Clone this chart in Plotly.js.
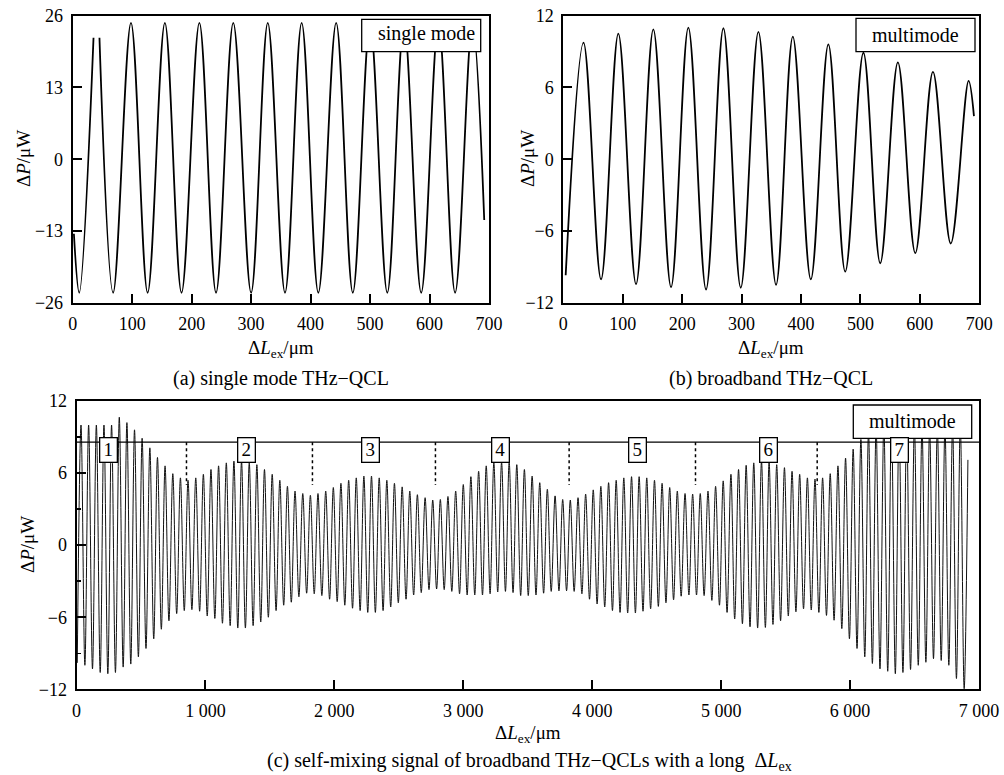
<!DOCTYPE html>
<html><head><meta charset="utf-8">
<script src="https://cdn.plot.ly/plotly-3.0.1.min.js"></script>
<style>html,body{margin:0;padding:0;background:#fff;}#chart{width:1004px;height:775px;}</style>
</head><body><div id="chart"></div>
<script>
// ---------- Panel (a): single mode, extrema ----------
const aX = [2, 11, 35, null, 45, 68, 98, 126, 155, 183, 213, 241, 270, 300, 328, 357, 385, 413, 443, 471, 500, 529, 557, 586, 615, 643, 672, 692];
const aY = [-13.5, -24.2, 22, null, 22, -24.2, 24.7, -24.2, 24.7, -24.2, 24.7, -24.2, 24.7, -24.2, 24.7, -24.2, 24.7, -24.2, 24.7, -24.2, 24.7, -24.2, 24.7, -24.2, 24.7, -24.2, 24.7, -11];
const aXTicks = [0, 100, 200, 300, 400, 500, 600, 700];
const aYTicks = [-26, -13, 0, 13, 26];

// ---------- Panel (b): broadband, extrema ----------
const bX = [4, 34, 63.5, 92.6, 122.4, 151.5, 181.3, 210.4, 240.2, 269.4, 298.6, 328.3, 358, 386.2, 416.5, 446, 474.4, 505, 533.3, 563, 592.3, 622, 652, 682, 691];
const bY = [-9.7, 9.75, -10.05, 10.5, -10.45, 10.85, -10.7, 11.0, -10.9, 10.95, -10.75, 10.65, -10.5, 10.25, -10.05, 9.6, -9.4, 8.9, -8.7, 8.1, -7.85, 7.3, -7.05, 6.55, 3.6];
const bXTicks = [0, 100, 200, 300, 400, 500, 600, 700];
const bYTicks = [-12, -6, 0, 6, 12];

// ---------- Panel (c): long ΔL, peaks and troughs ----------
const cStart = [6, -9.8];
const cPeakX = [35, 94, 154, 213, 272, 332, 391, 450, 509, 569, 628, 687, 747, 806, 865, 925, 984, 1043, 1102, 1162, 1221, 1280, 1340, 1399, 1458, 1518, 1577, 1636, 1695, 1755, 1814, 1873, 1933, 1992, 2051, 2111, 2170, 2229, 2288, 2348, 2407, 2466, 2526, 2585, 2644, 2704, 2763, 2822, 2881, 2941, 3000, 3059, 3119, 3178, 3237, 3297, 3356, 3415, 3474, 3534, 3593, 3652, 3712, 3771, 3830, 3890, 3949, 4008, 4067, 4127, 4186, 4245, 4305, 4364, 4423, 4483, 4542, 4601, 4660, 4720, 4779, 4838, 4898, 4957, 5016, 5076, 5135, 5194, 5253, 5313, 5372, 5431, 5491, 5550, 5609, 5669, 5728, 5787, 5846, 5906, 5965, 6024, 6084, 6143, 6202, 6262, 6321, 6380, 6439, 6499, 6558, 6617, 6677, 6736, 6795, 6855, 6914];
const cPeakY = [10.0, 10.0, 10.0, 10.0, 10.0, 10.65, 10.2, 9.6, 8.9, 8.1,
  7.3, 6.6, 5.95, 5.6, 5.4, 5.6, 5.9, 6.3, 6.6, 6.85,
  7.0, 7.0, 6.85, 6.7, 6.3, 5.9, 5.4, 4.9, 4.5, 4.3,
  4.15, 4.3, 4.5, 4.8, 5.15, 5.4, 5.6, 5.75, 5.75, 5.6,
  5.4, 5.15, 4.85, 4.5, 4.2, 3.95, 3.75, 3.8, 4.05, 4.5,
  5.05, 5.7, 6.15, 6.6, 6.85, 6.9, 6.9, 6.7, 6.3, 5.75,
  5.2, 4.65, 4.1, 3.8, 3.75, 3.95, 4.25, 4.6, 4.9, 5.2,
  5.4, 5.6, 5.7, 5.7, 5.6, 5.4, 5.15, 4.8, 4.5, 4.3,
  4.25, 4.3, 4.5, 4.9, 5.35, 5.9, 6.3, 6.65, 6.85, 7.0,
  6.9, 6.7, 6.45, 6.15, 5.9, 5.6, 5.5, 5.6, 5.95, 6.6,
  7.25, 8.0, 8.8, 9.4, 9.8, 10.0, 10.1, 10.1, 10.0, 9.9,
  9.8, 9.7, 9.7, 9.8, 9.9, 10.0, 7.1];
const cTroughX = [65, 124, 184, 243, 302, 362, 421, 480, 539, 599,
  658, 717, 777, 836, 895, 955, 1014, 1073, 1132, 1192,
  1251, 1310, 1370, 1429, 1488, 1548, 1607, 1666, 1725, 1785,
  1844, 1903, 1963, 2022, 2081, 2141, 2200, 2259, 2318, 2378,
  2437, 2496, 2556, 2615, 2674, 2734, 2793, 2852, 2911, 2971,
  3030, 3089, 3149, 3208, 3267, 3327, 3386, 3445, 3504, 3564,
  3623, 3682, 3742, 3801, 3860, 3920, 3979, 4038, 4097, 4157,
  4216, 4275, 4335, 4394, 4453, 4513, 4572, 4631, 4690, 4750,
  4809, 4868, 4928, 4987, 5046, 5105, 5165, 5224, 5283, 5343,
  5402, 5461, 5521, 5580, 5639, 5699, 5758, 5817, 5876, 5936,
  5995, 6054, 6114, 6173, 6232, 6292, 6351, 6410, 6469, 6529,
  6588, 6647, 6707, 6766, 6825, 6885];
const cTroughY = [-10.0, -10.3, -10.6, -10.7, -10.6, -10.15, -9.9, -9.3, -8.6, -7.8,
  -7.0, -6.3, -5.7, -5.45, -5.37, -5.5, -5.9, -6.1, -6.5, -6.7,
  -6.9, -6.9, -6.7, -6.4, -6.0, -5.45, -5.0, -4.75, -4.3, -4.0,
  -4.05, -4.2, -4.5, -4.7, -5.0, -5.25, -5.45, -5.6, -5.6, -5.45,
  -5.15, -4.8, -4.5, -4.15, -3.95, -3.7, -3.65, -3.7, -3.85, -4.05,
  -4.15, -4.15, -4.15, -4.05, -3.9, -3.85, -3.95, -4.2, -4.2, -4.15,
  -4.0, -3.85, -3.8, -3.8, -3.85, -4.05, -4.5, -4.9, -5.15, -5.45,
  -5.6, -5.65, -5.65, -5.5, -5.3, -5.1, -4.8, -4.55, -4.25, -4.15,
  -4.15, -4.2, -4.6, -5.0, -5.6, -6.15, -6.55, -6.8, -6.9, -6.85,
  -6.6, -6.3, -5.9, -5.55, -5.3, -5.4, -5.6, -5.85, -6.25, -6.95,
  -7.8, -8.6, -9.3, -9.85, -10.3, -10.5, -10.7, -10.6, -10.35, -10.0,
  -9.75, -9.45, -9.6, -10.0, -11.1, -11.95];
const cXTicks = [0, 1000, 2000, 3000, 4000, 5000, 6000, 7000];
const cYTicks = [-12, -6, 0, 6, 12];
const cRefLevel = 8.57;               // horizontal reference line
const cDividerX = [853, 1830, 2784, 3821, 4801, 5745];
const cDividerBottom = 5.0;
const cSegLabels = ['1', '2', '3', '4', '5', '6', '7'];
const cSegLabelX = [250, 1318, 2283, 3291, 4351, 5365, 6386];
const cSegLabelY = 7.9;

// build interleaved series for (c)
const cX = [cStart[0]], cY = [cStart[1]];
for (let i = 0; i < cPeakX.length; i++) {
  cX.push(cPeakX[i]); cY.push(cPeakY[i]);
  if (i < cTroughX.length) { cX.push(cTroughX[i]); cY.push(cTroughY[i]); }
}

const W = 1004, H = 775;
const PX = v => v / W, PY = v => 1 - v / H;
const FONT = 'Liberation Serif, Times New Roman, serif';

const traces = [
  {x: aX, y: aY, xaxis: 'x', yaxis: 'y', mode: 'lines', connectgaps: false,
   line: {color: '#000', width: 1.8, shape: 'spline', smoothing: 1}},
  {x: bX, y: bY, xaxis: 'x2', yaxis: 'y2', mode: 'lines',
   line: {color: '#000', width: 1.8, shape: 'spline', smoothing: 1}},
  {x: cX, y: cY, xaxis: 'x3', yaxis: 'y3', mode: 'lines',
   line: {color: '#111', width: 1, shape: 'spline', smoothing: 1}}
];

const ax = {showline: true, linecolor: '#000', linewidth: 2, mirror: true,
  ticks: 'inside', ticklen: 9, tickwidth: 2, tickcolor: '#000',
  showgrid: false, zeroline: false, tickmode: 'array', ticklabelstandoff: 4,
  tickfont: {family: FONT, size: 18, color: '#000'}};

const layout = {
  width: W, height: H, margin: {l: 0, r: 0, t: 0, b: 0},
  paper_bgcolor: '#fff', plot_bgcolor: '#fff', showlegend: false,
  separators: '. ',
  xaxis: Object.assign({}, ax, {domain: [PX(72.7), PX(489)], range: [0, 700], tickvals: aXTicks, anchor: 'y'}),
  yaxis: Object.assign({}, ax, {domain: [PY(302.7), PY(15.7)], range: [-26, 26], tickvals: aYTicks, anchor: 'x'}),
  xaxis2: Object.assign({}, ax, {domain: [PX(563.3), PX(979.3)], range: [0, 700], tickvals: bXTicks, anchor: 'y2'}),
  yaxis2: Object.assign({}, ax, {domain: [PY(302.7), PY(15.7)], range: [-12, 12], tickvals: bYTicks, anchor: 'x2'}),
  xaxis3: Object.assign({}, ax, {domain: [PX(76.5), PX(979)], range: [0, 7000], tickvals: cXTicks, separatethousands: true, anchor: 'y3'}),
  yaxis3: Object.assign({}, ax, {domain: [PY(689.3), PY(401)], range: [-12, 12], tickvals: cYTicks, anchor: 'x3',
    minor: {tickvals: [-9, -3, 3, 9], ticks: 'inside', ticklen: 4, tickwidth: 1.5, tickcolor: '#000', showgrid: false}}),
  shapes: [], annotations: []
};

// reference line and dashed dividers in (c)
layout.shapes.push({type: 'line', xref: 'x3', yref: 'y3', x0: 0, x1: 7000, y0: cRefLevel, y1: cRefLevel,
  line: {color: '#000', width: 1.3}});
cDividerX.forEach(x => layout.shapes.push({type: 'line', xref: 'x3', yref: 'y3', x0: x, x1: x,
  y0: cRefLevel, y1: cDividerBottom, line: {color: '#000', width: 1.5, dash: 'dot'}}));

// legend-like boxes
function box(x0, x1, y0, y1, text, tx, ty) {
  layout.shapes.push({type: 'rect', xref: 'paper', yref: 'paper', x0: PX(x0), x1: PX(x1), y0: PY(y1), y1: PY(y0),
    fillcolor: '#fff', line: {color: '#000', width: 1.3}});
  layout.annotations.push({xref: 'paper', yref: 'paper', x: PX(tx), y: PY(ty), text: text, showarrow: false,
    xanchor: 'center', yanchor: 'middle', font: {family: FONT, size: 20, color: '#000'}});
}
box(361.7, 480.7, 19.3, 51.7, 'single mode', 426.5, 34);
box(856, 975, 18.3, 51.7, 'multimode', 915, 34.5);
box(853.3, 971.7, 405, 438.3, 'multimode', 912, 421);

// numbered segments in (c)
cSegLabels.forEach((t, i) => layout.annotations.push({xref: 'x3', yref: 'y3', x: cSegLabelX[i], y: cSegLabelY,
  text: t, showarrow: false, bgcolor: '#fff', bordercolor: '#000', borderwidth: 1.3, borderpad: 1,
  width: 14, height: 21, font: {family: FONT, size: 19, color: '#000'}}));

// axis titles and captions
function txt(x, y, text, size, angle) {
  layout.annotations.push({xref: 'paper', yref: 'paper', x: PX(x), y: PY(y), text: text, showarrow: false,
    xanchor: 'center', yanchor: 'middle', textangle: angle || 0, font: {family: FONT, size: size, color: '#000'}});
}
const yTitle = 'Δ<i>P</i>/μW';
const xTitle = 'Δ<i>L</i><sub>ex</sub>/μm';
txt(23, 159, yTitle, 19, -90);
txt(527, 159, yTitle, 19, -90);
txt(27, 545, yTitle, 19, -90);
txt(281, 349, xTitle, 19);
txt(771, 349, xTitle, 19);
txt(528, 734, xTitle, 19);
txt(281, 378, '(a) single mode THz−QCL', 20);
txt(771, 378, '(b) broadband THz−QCL', 20);
txt(529, 761, '(c) self-mixing signal of broadband THz−QCLs with a long  Δ<i>L</i><sub>ex</sub>', 20);

Plotly.newPlot('chart', traces, layout, {staticPlot: true, displayModeBar: false});
</script>
</body></html>
